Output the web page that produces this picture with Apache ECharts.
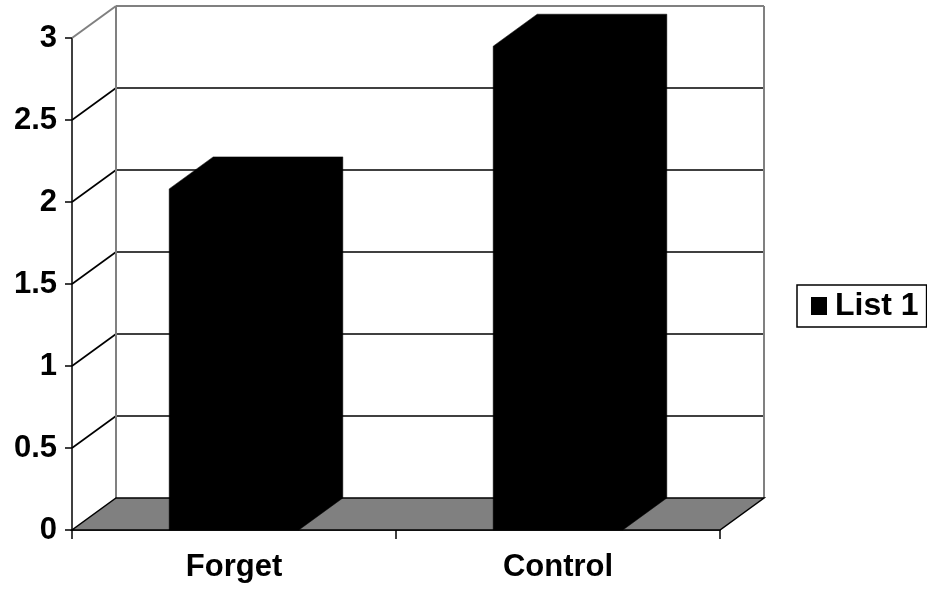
<!DOCTYPE html>
<html>
<head>
<meta charset="utf-8">
<script src="https://cdn.jsdelivr.net/npm/echarts@6/dist/echarts.min.js"></script>
<style>
  html, body { margin: 0; padding: 0; background: #fff; }
  #chart { width: 927px; height: 590px; }
</style>
</head>
<body>
<div id="chart"></div>
<script>
// Data
const categories = ['Forget', 'Control'];
const listValues = [2.08, 2.95];
const yTicks = [0, 0.5, 1, 1.5, 2, 2.5, 3];
const seriesName = 'List 1';

// Pseudo-3D depth offset (pixels) for walls, floor and bar sides
const DEPTH_X = 44;
const DEPTH_Y = -32;
const FONT = '"Liberation Sans", Arial, sans-serif';
const WALL_GRAY = '#808080';

const chart = echarts.init(document.getElementById('chart'), null, { renderer: 'canvas' });

// Back wall gridline + side-wall diagonal for one tick value
function renderWall(params, api) {
  const cs = params.coordSys;
  const v = api.value(1);
  const y = api.coord([0, v])[1];
  const y0 = api.coord([0, 0])[1];
  const left = cs.x;
  const right = cs.x + cs.width;
  const isTop = v === yTicks[yTicks.length - 1];
  const children = [];
  if (v !== 0) {
    children.push({
      type: 'line',
      shape: { x1: left, y1: y, x2: left + DEPTH_X, y2: y + DEPTH_Y },
      style: { stroke: isTop ? WALL_GRAY : '#000', lineWidth: isTop ? 2 : 1.6 }
    });
    children.push({
      type: 'line',
      shape: { x1: left + DEPTH_X, y1: y + DEPTH_Y, x2: right + DEPTH_X, y2: y + DEPTH_Y },
      style: { stroke: isTop ? WALL_GRAY : '#000', lineWidth: isTop ? 2 : 1.6 }
    });
  }
  if (isTop) {
    children.push({
      type: 'line',
      shape: { x1: left + DEPTH_X, y1: y + DEPTH_Y, x2: left + DEPTH_X, y2: y0 + DEPTH_Y },
      style: { stroke: WALL_GRAY, lineWidth: 2 }
    });
    children.push({
      type: 'line',
      shape: { x1: right + DEPTH_X, y1: y + DEPTH_Y, x2: right + DEPTH_X, y2: y0 + DEPTH_Y },
      style: { stroke: WALL_GRAY, lineWidth: 2 }
    });
  }
  return { type: 'group', children };
}

// Gray floor plane
function renderFloor(params, api) {
  const cs = params.coordSys;
  const y0 = api.coord([0, 0])[1];
  const left = cs.x;
  const right = cs.x + cs.width;
  return {
    type: 'polygon',
    shape: {
      points: [
        [left, y0], [right, y0],
        [right + DEPTH_X, y0 + DEPTH_Y], [left + DEPTH_X, y0 + DEPTH_Y]
      ]
    },
    style: { fill: WALL_GRAY, stroke: '#000', lineWidth: 1.5 }
  };
}

// Solid block: front face, top and right side
function renderBar(params, api) {
  const idx = api.value(0);
  const base = api.coord([idx, 0]);
  const top = api.coord([idx, api.value(1)]);
  const w = api.size([1, 0])[0] * 0.4;
  const xl = top[0] - w / 2;
  const xr = top[0] + w / 2;
  const yb = base[1];
  const yt = top[1];
  return {
    type: 'polygon',
    shape: {
      points: [
        [xl, yb], [xl, yt],
        [xl + DEPTH_X, yt + DEPTH_Y], [xr + DEPTH_X, yt + DEPTH_Y],
        [xr + DEPTH_X, yb + DEPTH_Y], [xr, yb]
      ]
    },
    style: { fill: '#000', stroke: '#000', lineWidth: 0.5 }
  };
}

const option = {
  backgroundColor: '#fff',
  animation: false,
  grid: { left: 72, right: 207, top: 38, bottom: 60, containLabel: false },
  legend: {
    data: [{ name: seriesName, icon: 'rect' }],
    left: 797,
    top: 285,
    orient: 'vertical',
    borderColor: '#000',
    borderWidth: 1.5,
    padding: [5, 8, 5, 14],
    itemWidth: 16,
    itemHeight: 18,
    itemStyle: { color: '#000' },
    textStyle: { fontSize: 32, fontWeight: 'bold', fontFamily: FONT, color: '#000', padding: [0, 0, 0, 3] }
  },
  xAxis: {
    type: 'category',
    data: categories,
    boundaryGap: true,
    axisLine: { show: true, lineStyle: { color: '#000', width: 1.5 } },
    axisTick: { show: true, length: 9, lineStyle: { color: '#000', width: 1.5 } },
    axisLabel: { fontSize: 31, fontWeight: 'bold', fontFamily: FONT, color: '#000', margin: 22 },
    splitLine: { show: false }
  },
  yAxis: {
    type: 'value',
    min: 0,
    max: 3,
    interval: 0.5,
    axisLine: { show: true, lineStyle: { color: '#000', width: 1.5 } },
    axisTick: { show: true, length: 7, lineStyle: { color: '#000', width: 1.5 } },
    axisLabel: {
      fontSize: 31, fontWeight: 'bold', fontFamily: FONT, color: '#000',
      margin: 15, padding: [8, 0, 0, 0]
    },
    splitLine: { show: false }
  },
  series: [
    {
      type: 'custom',
      name: 'wall',
      z: 1,
      silent: true,
      renderItem: renderWall,
      data: yTicks.map(v => [0, v])
    },
    {
      type: 'custom',
      name: 'floor',
      z: 2,
      silent: true,
      renderItem: renderFloor,
      data: [[0, 0]]
    },
    {
      type: 'custom',
      name: seriesName,
      z: 3,
      itemStyle: { color: '#000' },
      renderItem: renderBar,
      data: listValues.map((v, i) => [i, v])
    }
  ]
};

chart.setOption(option);
</script>
</body>
</html>
